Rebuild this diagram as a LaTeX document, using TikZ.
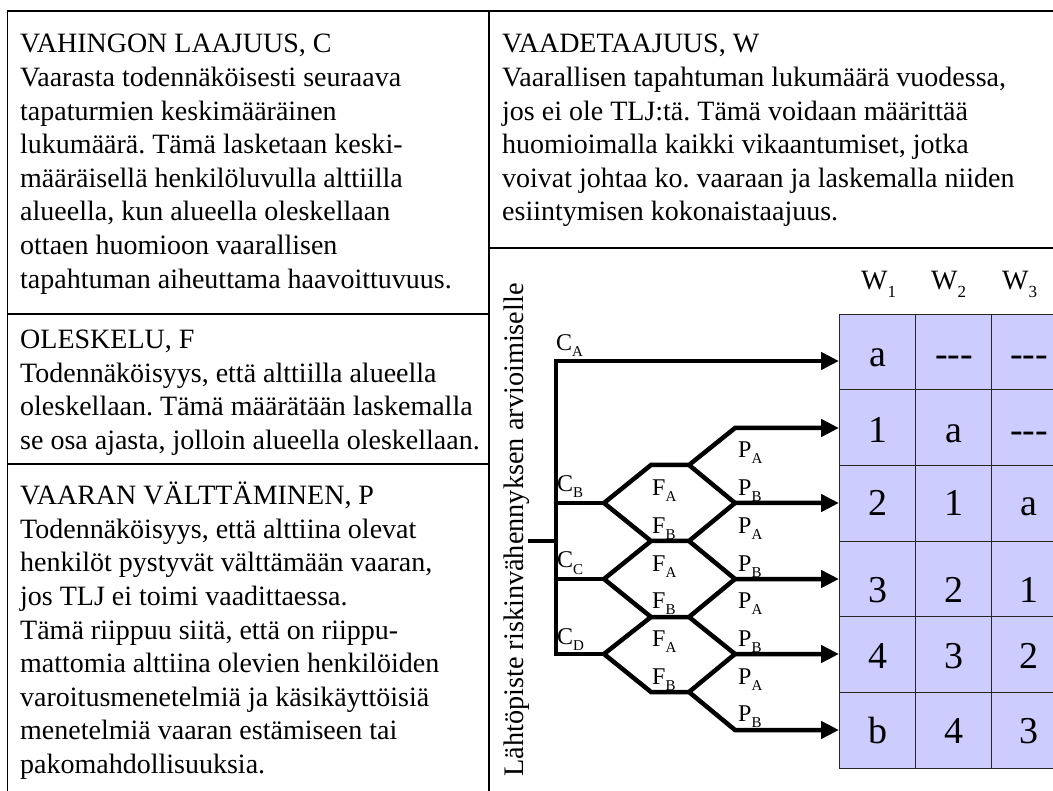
\documentclass[tikz,border=0pt]{standalone}
\usepackage{fontspec}
\setmainfont{Liberation Serif}
\usetikzlibrary{arrows.meta}
\definecolor{lav}{RGB}{204,204,255}
\newcommand\lowidx[1]{\raisebox{-6pt}{\fontsize{15}{15}\selectfont #1}}
\newcommand\wsub[1]{\raisebox{-8pt}{\fontsize{17}{17}\selectfont #1}}
\newcommand\dsh{-{}-{}-}
\frenchspacing
\begin{document}
\begin{tikzpicture}[x=1pt,y=-1pt,
  body/.style={anchor=base west, inner sep=0, font=\fontsize{28}{33.6}\selectfont},
  frame/.style={line width=1.6pt},
  branch/.style={line width=4.5pt, line cap=round, line join=miter},
  stem/.style={line width=4.5pt},
  arr/.style={branch, -{Triangle[length=18pt,width=17pt]}},
  cell/.style={draw=black!85, line width=0.9pt, fill=lav, minimum width=76pt,
    minimum height=75.67pt, inner sep=0, outer sep=0},
  celltxt/.style={anchor=base, inner sep=0, font=\fontsize{38}{40}\selectfont},
  lbl/.style={anchor=base west, inner sep=0, font=\fontsize{24}{26}\selectfont},
  whead/.style={anchor=base west, inner sep=0, font=\fontsize{28}{30}\selectfont}]
\useasboundingbox (0,0) rectangle (1053,791);
\clip (0,0) rectangle (1053,791);

% frame of the sheet
\draw[frame] (7.5,791) -- (7.5,11) -- (1053,11);
\draw[frame] (489,11) -- (489,791);
\draw[frame] (7.5,314) -- (489,314);
\draw[frame] (7.5,464) -- (489,464);
\draw[frame, line width=2.2pt] (489,248) -- (1053,248);

% left column: C, F and P descriptions
\foreach \t [count=\i] in {{VAHINGON LAAJUUS, C},
  {Vaarasta todennäköisesti seuraava},
  {tapaturmien keskimääräinen},
  {lukumäärä. Tämä lasketaan keski-},
  {määräisellä henkilöluvulla alttiilla},
  {alueella, kun alueella oleskellaan},
  {ottaen huomioon vaarallisen},
  {tapahtuman aiheuttama haavoittuvuus.}}
  \node[body] (c\i) at (20,{53+33.6*(\i-1)}) {\t};

\foreach \t [count=\i] in {{OLESKELU, F},
  {Todennäköisyys, että alttiilla alueella},
  {oleskellaan. Tämä määrätään laskemalla},
  {se osa ajasta, jolloin alueella oleskellaan.}}
  \node[body] (f\i) at (20,{349+33.5*(\i-1)}) {\t};

\foreach \t [count=\i] in {{VAARAN VÄLTTÄMINEN, P},
  {Todennäköisyys, että alttiina olevat},
  {henkilöt pystyvät välttämään vaaran,},
  {jos TLJ ei toimi vaadittaessa.},
  {Tämä riippuu siitä, että on riippu-},
  {mattomia alttiina olevien henkilöiden},
  {varoitusmenetelmiä ja käsikäyttöisiä},
  {menetelmiä vaaran estämiseen tai},
  {pakomahdollisuuksia.}}
  \node[body] (p\i) at (20,{505+33.5*(\i-1)}) {\t};

% right column: W description
\foreach \t [count=\i] in {{VAADETAAJUUS, W},
  {Vaarallisen tapahtuman lukumäärä vuodessa,},
  {jos ei ole TLJ:tä. Tämä voidaan määrittää},
  {huomioimalla kaikki vikaantumiset, jotka},
  {voivat johtaa ko. vaaraan ja laskemalla niiden},
  {esiintymisen kokonaistaajuus.}}
  \node[body] (w\i) at (502,{53+33.6*(\i-1)}) {\t};

% starting point caption
\node[rotate=90, anchor=base west, inner sep=0, font=\fontsize{28.3}{30}\selectfont]
  (start) at (523,777) {Lähtöpiste riskinvähennyksen arvioimiselle};

% W table
\foreach \r in {1,...,6}
  \foreach \c in {1,2,3}
    \node[cell] (r\r c\c) at ({877+76*(\c-1)},{314+75.67*(\r-0.5)}) {};

\node[whead] (h1) at (861,290) {W\wsub{1}};
\node[whead] (h2) at (931,290) {W\wsub{2}};
\node[whead] (h3) at (1002,290) {W\wsub{3}};

\foreach \r/\yb/\ta/\tb/\tc in {1/367/a/\dsh/\dsh, 2/443/1/a/\dsh, 3/516/2/1/a,
    4/602/3/2/1, 5/668/4/3/2, 6/743/b/4/3} {
  \node[celltxt] (t\r a) at (878,\yb) {\ta};
  \node[celltxt] (t\r b) at (954,\yb) {\tb};
  \node[celltxt] (t\r c) at (1029,\yb) {\tc};
}

% risk graph
\coordinate (root) at (528,541);
\coordinate (rootJ) at (556,541);
\coordinate (barT) at (556,361);
\coordinate (barB) at (556,654);
\coordinate (jB) at (556,503);
\coordinate (jC) at (556,579);
\coordinate (sB) at (604,503);
\coordinate (sC) at (604,579);
\coordinate (sD) at (604,654);
\coordinate (f1l) at (651,465);  \coordinate (f1r) at (689,465);
\coordinate (f2l) at (651,541);  \coordinate (f2r) at (689,541);
\coordinate (f3l) at (651,617);  \coordinate (f3r) at (689,617);
\coordinate (f4l) at (651,692);  \coordinate (f4r) at (689,692);
\coordinate (p1) at (735,428);
\coordinate (p2) at (735,503);
\coordinate (p3) at (735,579);
\coordinate (p4) at (735,654);
\coordinate (p5) at (735,730);

\draw[stem] (root) -- (rootJ);
\draw[arr] (sD) -- (barB) -- (barT) -- (r1c1.west |- barT);
\draw[branch] (jB) -- (sB);
\draw[branch] (jC) -- (sC);

\draw[arr] (sB) -- (f1l) -- (f1r) -- (p1) -- (r2c1.west |- p1);
\draw[arr] (f1r) -- (p2) -- (r3c1.west |- p2);
\draw[branch] (sB) -- (f2l) -- (f2r) -- (p2);
\draw[arr] (f2r) -- (p3) -- (r4c1.west |- p3);
\draw[branch] (sC) -- (f2l);
\draw[branch] (sC) -- (f3l) -- (f3r) -- (p3);
\draw[arr] (f3r) -- (p4) -- (r5c1.west |- p4);
\draw[branch] (sD) -- (f3l);
\draw[branch] (sD) -- (f4l) -- (f4r) -- (p4);
\draw[arr] (f4r) -- (p5) -- (r6c1.west |- p5);

% branch labels
\node[lbl] (lCA) at (556,351) {C\lowidx{A}};
\node[lbl] (lCB) at (557,492) {C\lowidx{B}};
\node[lbl] (lCC) at (557,568) {C\lowidx{C}};
\node[lbl] (lCD) at (557,644) {C\lowidx{D}};

\foreach \k/\s in {1/A,2/B,3/A,4/B,5/A,6/B}
  \node[lbl] (lF\k) at (652,{458+37.7*\k}) {F\lowidx{\s}};
\foreach \k/\s in {0/A,1/B,2/A,3/B,4/A,5/B,6/A,7/B}
  \node[lbl] (lP\k) at (738,{458+37.7*\k}) {P\lowidx{\s}};
\end{tikzpicture}
\end{document}
